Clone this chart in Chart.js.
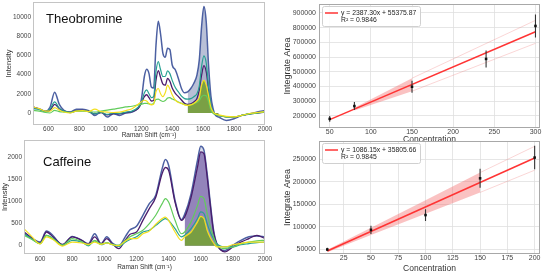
<!DOCTYPE html>
<html>
<head>
<meta charset="utf-8">
<script src="https://cdn.jsdelivr.net/npm/chart.js@4.4.0/dist/chart.umd.min.js"></script>
<style>
  html, body { margin: 0; padding: 0; background: #fff; }
  body { width: 546px; height: 274px; position: relative; overflow: hidden; }
  canvas { position: absolute; }
</style>
</head>
<body>
<canvas id="theo" width="273" height="142" style="left:0;top:0"></canvas>
<canvas id="caff" width="273" height="137" style="left:0;top:137px"></canvas>
<canvas id="theoFit" width="273" height="145" style="left:273px;top:0"></canvas>
<canvas id="caffFit" width="273" height="137" style="left:273px;top:137px"></canvas>
<script>
// ---- spectra: theobromine ----
const theoShift = [500, 540, 580, 610, 640, 670, 700, 740, 780, 820, 860, 900, 940, 980, 1020, 1060, 1100, 1140, 1180, 1200,
  1220, 1235, 1250, 1265, 1280, 1295, 1310, 1325, 1340, 1355, 1370, 1385, 1400, 1420, 1440, 1460, 1480, 1500, 1520, 1540,
  1560, 1575, 1590, 1605, 1620, 1635, 1650, 1665, 1680, 1700, 1750, 1800, 1850, 1900, 1950, 2000];
const theoBlue = [560, 450, 200, 600, 2170, 900, 280, 100, 400, 400, 250, -250, 100, -420, -70, -250, 0, 100, 560, 1330,
  3800, 4550, 4100, 2700, 2600, 7000, 9550, 8200, 6200, 5800, 6750, 6600, 5000, 4500, 3600, 2550, 2100, 2200, 2550, 3100,
  3950, 5500, 9000, 11100, 9500, 5000, 1800, 400, -250, -420, -770, -600, -250, -100, 100, 250];
const theoPurple = [630, 400, 150, 300, 900, 450, 200, 50, 250, 280, 150, -100, 50, -200, -50, -100, 50, 150, 450, 1000,
  1700, 1900, 1600, 1250, 1300, 3400, 4400, 3700, 3000, 2900, 3600, 3300, 2600, 2050, 1700, 1350, 1000, 900, 950, 1150,
  1500, 2400, 3950, 4930, 4300, 2500, 800, 100, -150, -250, -400, -420, -250, -100, 0, 100];
const theoTeal = [450, 350, 150, 400, 1150, 500, 200, 50, 200, 250, 150, -100, 50, -150, 0, -50, 100, 200, 600, 1050,
  2100, 2400, 2000, 1600, 1700, 4300, 5350, 4500, 3800, 3800, 4400, 4100, 3400, 2650, 2200, 1750, 1500, 1450, 1500, 1700,
  2000, 2800, 4850, 5950, 5200, 2800, 900, 150, -150, -250, -400, -400, -250, -100, 0, 100];
const theoYellow = [630, 450, 200, 200, 560, 300, 100, 0, 200, 250, 150, 400, 150, 100, 50, 100, 250, 450, 900, 1150,
  1330, 1250, 1000, 850, 900, 2200, 2550, 2000, 1700, 2100, 2900, 2500, 1900, 1330, 1100, 1000, 850, 800, 850, 1000,
  1250, 1600, 2900, 3400, 2900, 1800, 600, 100, -100, -200, -350, -400, -250, -50, 50, 150];
const theoGreen = [280, 200, 50, 0, 280, 150, 100, 50, 200, 200, 150, 100, 200, 300, 400, 500, 630, 700, 850, 900,
  1000, 1000, 950, 900, 1000, 1400, 1450, 1300, 1200, 1300, 1550, 1600, 1450, 1330, 1150, 1000, 900, 800, 850, 1000,
  1100, 1300, 1700, 1850, 1800, 1200, 300, -50, -150, -250, -400, -400, -250, -100, 0, 150];

// ---- spectra: caffeine ----
const caffShift = [500, 550, 600, 640, 680, 740, 800, 860, 900, 940, 980, 1015, 1050, 1090, 1130, 1160, 1200, 1240, 1280, 1320,
  1360, 1380, 1400, 1440, 1480, 1500, 1540, 1580, 1600, 1620, 1640, 1660, 1680, 1700, 1750, 1800, 1850, 1900, 1950, 2000];
const caffBlue = [270, 160, 80, 330, 230, 10, 210, 120, 45, 270, 45, 200, 60, -10, 200, 360, 440, 690, 955, 1145,
  1750, 1955, 1825, 1030, 590, 710, 1180, 1940, 2260, 2170, 1635, 955, 350, 45, -110, 10, 120, 200, 220, 200];
const caffPurple = [310, 170, 60, 310, 200, 30, 200, 120, 30, 200, 40, 160, 40, -70, 120, 260, 310, 575, 840, 1100,
  1640, 1775, 1710, 990, 575, 650, 1100, 1790, 2130, 2090, 1560, 900, 310, 40, -140, -30, 80, 160, 235, 160];
const caffTeal = [270, 150, 45, 235, 170, 10, 120, 80, -5, 110, 20, 60, 20, -20, 80, 140, 200, 310, 350, 460,
  575, 615, 575, 385, 200, 235, 385, 615, 765, 730, 500, 300, 160, 45, -30, -30, 20, 45, 70, 80];
const caffGreen = [235, 140, 45, 235, 150, 10, 160, 90, 10, 120, 40, 70, 30, 10, 110, 200, 270, 350, 500, 690,
  955, 1070, 990, 575, 270, 310, 540, 915, 1120, 1070, 730, 420, 200, 10, -70, -30, 40, 80, 110, 120];
const caffYellow = [385, 200, 40, 200, 140, -10, 80, 60, 30, 80, 30, 60, 20, 0, 100, 160, 160, 270, 330, 485,
  615, 650, 575, 310, 120, 200, 310, 540, 665, 615, 350, 180, 60, -30, -30, 20, 50, 80, 80, 80];

// ---- calibration: theobromine ----
const theoConc = [50, 80, 150, 240, 300];
const theoArea = [180000, 267000, 398000, 587000, 811000];
const theoErr = [20000, 27000, 41000, 58000, 78000];
const theoFitX = [50, 300];
const theoFitY = [174741, 771566];
const theoBandX = [80, 150];
const theoBandHi = [256000, 456000];
const theoBandLo = [237000, 368000];
const theoPredX = [150, 300];
const theoPredHi = [456000, 849000];
const theoPredLo = [368000, 693000];
const theoEq = ['y = 2387.30x + 55375.87', 'R\u00b2 = 0.9846'];

// ---- calibration: caffeine ----
const caffConc = [10, 50, 100, 150, 200];
const caffArea = [50000, 93600, 126400, 208000, 254000];
const caffErr = [3600, 9000, 13000, 21000, 26000];
const caffFitX = [10, 200];
const caffFitY = [46667, 253036];
const caffBandX = [10, 50, 100, 150];
const caffBandHi = [49700, 98100, 159400, 220700];
const caffBandLo = [43700, 82100, 129400, 176700];
const caffPredX = [150, 200];
const caffPredHi = [220700, 279000];
const caffPredLo = [176700, 226000];
const caffEq = ['y = 1086.15x + 35805.66', 'R\u00b2 = 0.9845'];

const shiftTicks = [600, 800, 1000, 1200, 1400, 1600, 1800, 2000];
const theoYTicks = [0, 2000, 4000, 6000, 8000, 10000];
const caffYTicks = [0, 500, 1000, 1500, 2000];
const theoConcTicks = [50, 100, 150, 200, 250, 300];
const theoAreaTicks = [200000, 300000, 400000, 500000, 600000, 700000, 800000, 900000];
const caffConcTicks = [25, 50, 75, 100, 125, 150, 175, 200];
const caffAreaTicks = [50000, 100000, 150000, 200000, 250000];

const FONT = '"Liberation Sans", Arial, sans-serif';
const C = {
  blue: '#4c60a2', purple: '#4a1c6c', teal: '#27a192', green: '#62cc5c', yellow: '#f3e01f',
  red: '#ff3434'
};

Chart.defaults.font.family = FONT;
Chart.defaults.animation = false;

const pts = (xs, ys) => xs.map((x, i) => ({ x, y: ys[i] }));
const window1500 = (xs, ys) => pts(xs, ys).filter(p => p.x >= 1500 && p.x <= 1700);

function spec(xs, ys, color, w) {
  return { data: pts(xs, ys), borderColor: color, borderWidth: w, pointRadius: 0, fill: false,
    cubicInterpolationMode: 'monotone' };
}
function shade(xs, ys, color) {
  return { data: window1500(xs, ys), borderWidth: 0, pointRadius: 0, fill: 'origin', backgroundColor: color,
    cubicInterpolationMode: 'monotone' };
}

function axis(min, max, tickVals, fit, o) {
  return {
    type: 'linear', min, max,
    afterBuildTicks: s => { s.ticks = tickVals.map(v => ({ value: v })); },
    afterFit: s => {
      if (s.isHorizontal()) s.height = fit; else s.width = fit;
      s.paddingLeft = s.paddingRight = s.paddingTop = s.paddingBottom = 0;
    },
    grid: { display: !!o.grid, color: '#e0e0e0', lineWidth: 0.8, drawTicks: false },
    border: { display: false },
    ticks: { color: '#444', font: { size: o.tickSize }, padding: o.tickPad, autoSkip: false, maxRotation: 0,
      callback: v => String(v) },
    title: { display: true, text: o.title, color: '#333', font: { size: o.titleSize }, padding: o.titlePad }
  };
}

// frame, sample name and fit legend
const decor = {
  id: 'decor',
  afterDraw(chart, args, opts) {
    const { ctx, chartArea: a } = chart;
    ctx.save();
    ctx.strokeStyle = opts.frame;
    ctx.lineWidth = 1;
    ctx.strokeRect(a.left + 0.5, a.top + 0.5, a.right - a.left - 1, a.bottom - a.top - 1);
    if (opts.name) {
      ctx.font = '13px ' + FONT;
      ctx.fillStyle = '#111';
      ctx.textBaseline = 'alphabetic';
      ctx.fillText(opts.name, opts.nameAt[0], opts.nameAt[1]);
    }
    if (opts.legend) {
      const x = a.left + 3, y = a.top + 2;
      ctx.fillStyle = 'rgba(255,255,255,0.85)';
      ctx.strokeStyle = '#d0d0d0';
      ctx.beginPath();
      ctx.roundRect(x + 0.5, y + 0.5, 98, 20, 2);
      ctx.fill();
      ctx.stroke();
      ctx.strokeStyle = C.red;
      ctx.lineWidth = 1.5;
      ctx.beginPath();
      ctx.moveTo(x + 3, y + 7);
      ctx.lineTo(x + 16, y + 7);
      ctx.stroke();
      ctx.fillStyle = '#222';
      ctx.font = '6.8px ' + FONT;
      ctx.textBaseline = 'middle';
      ctx.fillText(opts.legend[0], x + 19, y + 7);
      ctx.fillText(opts.legend[1], x + 19, y + 14);
    }
    ctx.restore();
  }
};

function spectrum(id, xs, s, fills, size, area, yr, yTicks, name, nameAt, pads) {
  const [W, H] = size;
  new Chart(document.getElementById(id), {
    type: 'line',
    data: {
      datasets: [
        spec(xs, s.yellow, C.yellow, 1.2),
        spec(xs, s.green, C.green, 1.2),
        spec(xs, s.teal, C.teal, 1.2),
        spec(xs, s.purple, C.purple, 1.3),
        spec(xs, s.blue, C.blue, 1.5),
        shade(xs, s.yellow, fills.yellow),
        shade(xs, s.purple, fills.purple),
        shade(xs, s.blue, fills.blue)
      ]
    },
    options: {
      responsive: false,
      devicePixelRatio: 1,
      layout: { padding: { left: 0, top: area.top, right: W - area.right, bottom: 0 } },
      plugins: { legend: { display: false }, tooltip: { enabled: false },
        decor: { frame: '#c4c4c4', name, nameAt } },
      scales: {
        x: axis(500, 2000, shiftTicks, H - area.bottom,
          { tickSize: 6.5, tickPad: pads.xTick, title: 'Raman Shift (cm\u207b\u00b9)', titleSize: 6.5,
            titlePad: { top: 0, bottom: pads.xTitle } }),
        y: axis(yr[0], yr[1], yTicks, area.left,
          { tickSize: 6.5, tickPad: 2, title: 'Intensity', titleSize: 7.5,
            titlePad: { top: pads.yTitle, bottom: 0 } })
      }
    },
    plugins: [decor]
  });
}

function calibration(id, c, size, area, xr, yr, xTicks, yTicks, pads) {
  const [W, H] = size;
  const errBars = c.conc.flatMap((x, i) => [
    { x, y: c.area[i] - c.err[i] }, { x, y: c.area[i] + c.err[i] }, { x, y: null }]);
  new Chart(document.getElementById(id), {
    type: 'line',
    data: {
      datasets: [
        { data: pts(c.conc, c.area), showLine: false, pointStyle: 'rect', pointRadius: 1.8,
          pointBackgroundColor: '#111', pointBorderWidth: 0 },
        { data: errBars, borderColor: '#333', borderWidth: 1.1, pointRadius: 0, spanGaps: false },
        { data: pts(c.fitX, c.fitY), borderColor: C.red, borderWidth: 1.5, pointRadius: 0 },
        { data: pts(c.predX, c.predHi), borderColor: 'rgba(240,120,120,0.3)', borderWidth: 1, pointRadius: 0 },
        { data: pts(c.predX, c.predLo), borderColor: 'rgba(240,120,120,0.3)', borderWidth: 1, pointRadius: 0 },
        { data: pts(c.bandX, c.bandHi), borderWidth: 0, pointRadius: 0 },
        { data: pts(c.bandX, c.bandLo), borderWidth: 0, pointRadius: 0, fill: '-1',
          backgroundColor: 'rgba(244,110,110,0.42)' }
      ]
    },
    options: {
      responsive: false,
      devicePixelRatio: 1,
      layout: { padding: { left: 0, top: area.top, right: W - area.right, bottom: 0 } },
      plugins: { legend: { display: false }, tooltip: { enabled: false },
        decor: { frame: '#a8a8a8', legend: c.eq } },
      scales: {
        x: axis(xr[0], xr[1], xTicks, H - area.bottom,
          { grid: true, tickSize: 7, tickPad: pads.xTick, title: 'Concentration', titleSize: 8.5,
            titlePad: { top: 0, bottom: pads.xTitle } }),
        y: axis(yr[0], yr[1], yTicks, area.left,
          { grid: true, tickSize: 7, tickPad: 3, title: 'Integrate Area', titleSize: 9,
            titlePad: { top: 9.5, bottom: 0 } })
      }
    },
    plugins: [decor]
  });
}

spectrum('theo', theoShift,
  { blue: theoBlue, purple: theoPurple, teal: theoTeal, yellow: theoYellow, green: theoGreen },
  { blue: 'rgba(72,90,150,0.38)', purple: 'rgba(70,30,110,0.10)', yellow: 'rgba(118,160,58,0.92)' },
  [273, 142], { left: 33, top: 2, right: 265, bottom: 125 }, [-1250, 11560], theoYTicks,
  'Theobromine', [46, 22.5], { xTick: 0, xTitle: 3, yTitle: 4.8 });

spectrum('caff', caffShift,
  { blue: caffBlue, purple: caffPurple, teal: caffTeal, yellow: caffYellow, green: caffGreen },
  { blue: 'rgba(80,100,160,0.22)', purple: 'rgba(90,60,150,0.55)', yellow: 'rgba(118,160,58,0.92)' },
  [273, 137], { left: 24, top: 3, right: 265, bottom: 117 }, [-190, 2400], caffYTicks,
  'Caffeine', [43, 29], { xTick: 1, xTitle: 3, yTitle: 0 });

calibration('theoFit',
  { conc: theoConc, area: theoArea, err: theoErr, fitX: theoFitX, fitY: theoFitY, bandX: theoBandX,
    bandHi: theoBandHi, bandLo: theoBandLo, predX: theoPredX, predHi: theoPredHi, predLo: theoPredLo, eq: theoEq },
  [273, 145], { left: 46, top: 2, right: 267, bottom: 128 }, [37, 305.5], [118000, 960000],
  theoConcTicks, theoAreaTicks, { xTick: 0, xTitle: 0.6 });

calibration('caffFit',
  { conc: caffConc, area: caffArea, err: caffErr, fitX: caffFitX, fitY: caffFitY, bandX: caffBandX,
    bandHi: caffBandHi, bandLo: caffBandLo, predX: caffPredX, predHi: caffPredHi, predLo: caffPredLo, eq: caffEq },
  [273, 137], { left: 46, top: 2, right: 267, bottom: 117 }, [2.4, 204.9], [40000, 290800],
  caffConcTicks, caffAreaTicks, { xTick: 0, xTitle: 0.6 });
</script>
</body>
</html>
